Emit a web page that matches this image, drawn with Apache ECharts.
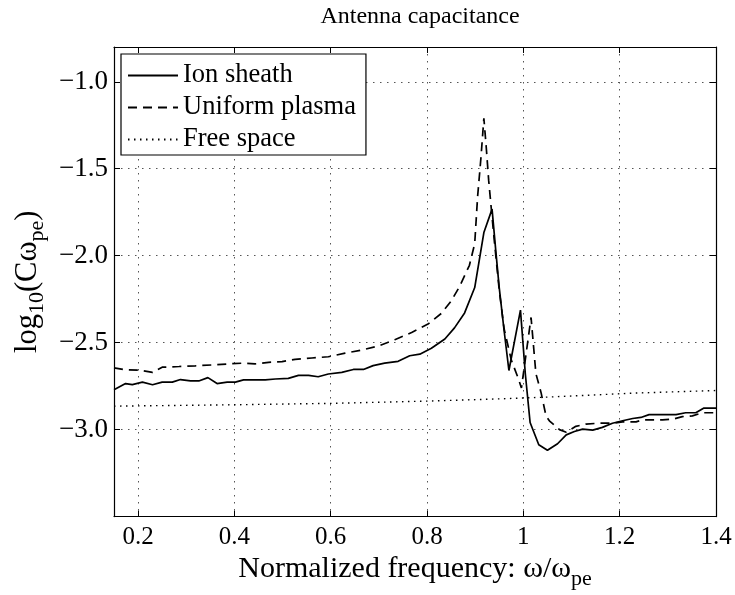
<!DOCTYPE html>
<html>
<head>
<meta charset="utf-8">
<script src="https://cdn.jsdelivr.net/npm/echarts@6/dist/echarts.min.js"></script>
<style>html,body{margin:0;padding:0;background:#fff}#c{width:735px;height:595px}</style>
</head>
<body>
<div id="c"></div>
<script>
// ---- data ----
const xTicks = [0.2, 0.4, 0.6, 0.8, 1.0, 1.2, 1.4];
const yTicks = [-3.0, -2.5, -2.0, -1.5, -1.0];

const ionFreq = [0.15,0.174,0.188,0.209,0.230,0.250,0.271,0.288,0.309,0.326,0.345,0.364,0.385,0.402,0.419,0.443,0.464,0.485,0.512,0.533,0.554,0.574,0.595,0.623,0.647,0.668,0.688,0.712,0.740,0.764,0.785,0.809,0.837,0.857,0.878,0.899,0.918,0.935,0.943,0.950,0.960,0.970,0.994,1.004,1.014,1.032,1.050,1.071,1.089,1.106,1.123,1.144,1.164,1.185,1.206,1.227,1.244,1.261,1.282,1.317,1.337,1.358,1.375,1.40];
const ionSheath = [-2.770,-2.735,-2.741,-2.727,-2.742,-2.727,-2.727,-2.712,-2.720,-2.720,-2.701,-2.735,-2.727,-2.727,-2.714,-2.714,-2.714,-2.709,-2.705,-2.688,-2.688,-2.696,-2.680,-2.671,-2.654,-2.654,-2.632,-2.618,-2.607,-2.575,-2.566,-2.532,-2.479,-2.415,-2.329,-2.183,-1.867,-1.732,-1.979,-2.186,-2.430,-2.660,-2.313,-2.677,-2.959,-3.087,-3.119,-3.081,-3.030,-3.011,-2.997,-3.003,-2.987,-2.963,-2.949,-2.936,-2.930,-2.914,-2.914,-2.914,-2.903,-2.903,-2.876,-2.876];

const uniFreq = [0.15,0.174,0.202,0.230,0.250,0.285,0.319,0.354,0.388,0.416,0.443,0.471,0.499,0.526,0.561,0.595,0.630,0.664,0.699,0.733,0.768,0.802,0.830,0.850,0.867,0.888,0.899,0.905,0.912,0.918,0.923,0.928,0.933,0.940,0.950,0.960,0.975,0.990,0.996,1.016,1.026,1.037,1.047,1.054,1.075,1.089,1.109,1.130,1.158,1.185,1.206,1.234,1.248,1.289,1.310,1.330,1.351,1.372,1.40];
const uniformPlasma = [-2.645,-2.656,-2.658,-2.671,-2.641,-2.637,-2.633,-2.628,-2.622,-2.618,-2.622,-2.613,-2.609,-2.596,-2.588,-2.581,-2.560,-2.543,-2.519,-2.483,-2.442,-2.393,-2.331,-2.261,-2.180,-2.055,-1.930,-1.660,-1.435,-1.210,-1.379,-1.567,-1.717,-1.923,-2.200,-2.420,-2.600,-2.710,-2.760,-2.355,-2.677,-2.790,-2.921,-2.949,-3.000,-3.015,-2.981,-2.968,-2.963,-2.963,-2.955,-2.955,-2.944,-2.944,-2.940,-2.925,-2.921,-2.903,-2.903];

const freeFreq = [0.15,0.40,0.60,0.80,0.93,1.05,1.23,1.40];
const freeSpace = [-2.865,-2.857,-2.849,-2.836,-2.825,-2.813,-2.790,-2.775];

const seriesNames = ['Ion sheath', 'Uniform plasma', 'Free space'];

// ---- chart ----
const FONT = "'Liberation Serif','Times New Roman',serif";
const pairs = (xs, ys) => xs.map((x, i) => [x, ys[i]]);
const gridLine = {show: true, lineStyle: {color: '#555', width: 1, type: [1.5, 5.5]}};
const lineAx = {show: true, onZero: false, lineStyle: {color: '#000', width: 1.2}};
const fmtY = v => (v < 0 ? '\u2212' : '') + Math.abs(v).toFixed(1);

const chart = echarts.init(document.getElementById('c'), null, {renderer: 'canvas'});
chart.setOption({
  animation: false,
  backgroundColor: '#fff',
  title: {
    text: 'Antenna capacitance',
    left: 415, top: 0, textAlign: 'center',
    textStyle: {fontFamily: FONT, fontSize: 24, fontWeight: 'normal', color: '#000'}
  },
  grid: {left: 114, right: 19, top: 47, bottom: 68, containLabel: false},
  legend: {
    orient: 'vertical', left: 121, top: 54,
    data: seriesNames,
    backgroundColor: '#fff', borderColor: '#000', borderWidth: 1.2,
    padding: [8, 10, 2, 6], itemGap: 5, itemWidth: 50, itemHeight: 14,
    itemStyle: {opacity: 0},
    textStyle: {fontFamily: FONT, fontSize: 26.5, color: '#000', lineHeight: 27}
  },
  xAxis: [{
    type: 'value', position: 'bottom', min: 0.15, max: 1.4,
    axisLine: lineAx,
    axisTick: {show: true, inside: true, length: 6, customValues: xTicks, lineStyle: {color: '#000'}},
    axisLabel: {customValues: xTicks, margin: 8, fontFamily: FONT, fontSize: 25, color: '#000',
      formatter: v => String(+v.toFixed(1))},
    splitLine: gridLine,
    name: '{m|Normalized frequency: \u03c9/\u03c9}{s|pe}',
    nameLocation: 'middle', nameGap: 28,
    nameTextStyle: {rich: {
      m: {fontFamily: FONT, fontSize: 30, color: '#000'},
      s: {fontFamily: FONT, fontSize: 22, color: '#000', padding: [19, 0, 0, 0]}
    }}
  }, {
    type: 'value', position: 'top', min: 0.15, max: 1.4,
    axisLine: lineAx,
    axisTick: {show: true, inside: true, length: 6, customValues: xTicks, lineStyle: {color: '#000'}},
    axisLabel: {show: false}, splitLine: {show: false}
  }],
  yAxis: [{
    type: 'value', position: 'left', min: -3.5, max: -0.8,
    axisLine: lineAx,
    axisTick: {show: true, inside: true, length: 6, customValues: yTicks, lineStyle: {color: '#000'}},
    axisLabel: {customValues: yTicks, margin: 6, fontFamily: FONT, fontSize: 27, color: '#000', formatter: fmtY},
    splitLine: gridLine,
    name: '{m|log}{s|10}{m|(C\u03c9}{s|pe}{m|)}',
    nameLocation: 'middle', nameGap: 63, nameRotate: 90,
    nameTextStyle: {rich: {
      m: {fontFamily: FONT, fontSize: 30.5, color: '#000'},
      s: {fontFamily: FONT, fontSize: 22, color: '#000', padding: [19, 0, 0, 0]}
    }}
  }, {
    type: 'value', position: 'right', min: -3.5, max: -0.8,
    axisLine: lineAx,
    axisTick: {show: true, inside: true, length: 6, customValues: yTicks, lineStyle: {color: '#000'}},
    axisLabel: {show: false}, splitLine: {show: false}
  }],
  series: [{
    name: seriesNames[0], type: 'line', symbol: 'none', z: 5,
    data: pairs(ionFreq, ionSheath),
    lineStyle: {color: '#000', width: 1.7, type: 'solid'},
    itemStyle: {color: '#000'}
  }, {
    name: seriesNames[1], type: 'line', symbol: 'none', z: 4,
    data: pairs(uniFreq, uniformPlasma),
    lineStyle: {color: '#000', width: 1.7, type: [9, 6]},
    itemStyle: {color: '#000'}
  }, {
    name: seriesNames[2], type: 'line', symbol: 'none', z: 3,
    data: pairs(freeFreq, freeSpace),
    lineStyle: {color: '#000', width: 1.4, type: [1.5, 4.5]},
    itemStyle: {color: '#000'}
  }]
});
</script>
</body>
</html>
